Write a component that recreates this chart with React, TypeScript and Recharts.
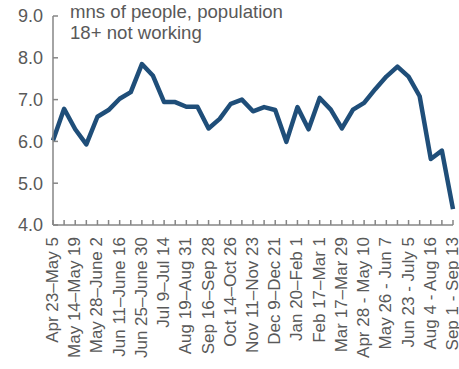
import { CartesianGrid, Line, LineChart, XAxis, YAxis } from "recharts";

// Survey weeks (every other one gets a label on the axis)
const weeks = [
  "Apr 23–May 5", "May 7–May 12", "May 14–May 19", "May 21–May 26",
  "May 28–June 2", "June 4–June 9", "Jun 11–June 16", "June 18–June 23",
  "Jun 25–June 30", "July 2–July 7", "Jul 9–Jul 14", "Jul 16–Jul 21",
  "Aug 19–Aug 31", "Sep 2–Sep 14", "Sep 16–Sep 28", "Sep 30–Oct 12",
  "Oct 14–Oct 26", "Oct 28–Nov 9", "Nov 11–Nov 23", "Nov 25–Dec 7",
  "Dec 9–Dec 21", "Jan 6–Jan 18", "Jan 20–Feb 1", "Feb 3–Feb 15",
  "Feb 17–Mar 1", "Mar 3–Mar 15", "Mar 17–Mar 29", "Apr 14–Apr 26",
  "Apr 28 - May 10", "May 12 - May 24", "May 26 - Jun 7", "Jun 9 - Jun 21",
  "Jun 23 - July 5", "Jul 21 - Aug 2", "Aug 4 - Aug 16", "Aug 18 - Aug 30",
  "Sep 1 - Sep 13",
];

// millions of adults not working
const notWorking = [
  6.02, 6.78, 6.29, 5.93, 6.59, 6.75, 7.02, 7.18, 7.85, 7.57,
  6.94, 6.94, 6.83, 6.83, 6.31, 6.54, 6.9, 7.0, 6.72, 6.82,
  6.75, 5.99, 6.82, 6.29, 7.04, 6.76, 6.31, 6.76, 6.92, 7.25,
  7.55, 7.79, 7.55, 7.08, 5.58, 5.78, 4.38,
];

const yTicks = [4, 5, 6, 7, 8, 9];

const data = weeks.map((week, i) => ({ week, value: notWorking[i] }));

const FONT = '"Liberation Sans", Arial, sans-serif';
const TEXT = "#595959";
const AXIS = "#868686";

function WeekTick(props: any) {
  const { x, y, payload, index } = props;
  if (index % 2 !== 0) return <g />;
  return (
    <text
      x={x}
      y={y}
      dy={5}
      transform={`rotate(-90, ${x}, ${y})`}
      textAnchor="end"
      fill={TEXT}
      fontSize={17}
      fontFamily={FONT}
    >
      {payload.value}
    </text>
  );
}

export default function App() {
  return (
    <div
      style={{
        position: "absolute",
        left: 0,
        top: 0,
        width: 459,
        height: 369,
        background: "#fff",
        overflow: "hidden",
      }}
    >
      <LineChart
        width={459}
        height={369}
        data={data}
        margin={{ top: 16, right: 6, bottom: 0, left: 8 }}
      >
        <CartesianGrid stroke="none" />
        <XAxis
          dataKey="week"
          interval={0}
          height={144}
          tickSize={-5}
          tickMargin={17}
          tick={<WeekTick />}
          axisLine={{ stroke: AXIS, strokeWidth: 1.5 }}
          tickLine={{ stroke: AXIS, strokeWidth: 1.5 }}
        />
        <YAxis
          width={45}
          domain={[4, 9]}
          ticks={yTicks}
          interval={0}
          tickSize={-5}
          tickMargin={15}
          tickFormatter={(v: number) => v.toFixed(1)}
          tick={{ fill: TEXT, fontSize: 18, fontFamily: FONT }}
          axisLine={{ stroke: AXIS, strokeWidth: 1.5 }}
          tickLine={{ stroke: AXIS, strokeWidth: 1.5 }}
        />
        <Line
          type="linear"
          dataKey="value"
          stroke="#1F4E79"
          strokeWidth={4.5}
          strokeLinejoin="round"
          dot={false}
          activeDot={false}
          isAnimationActive={false}
        />
      </LineChart>
      <div
        style={{
          position: "absolute",
          left: 70,
          top: 1,
          fontFamily: FONT,
          fontSize: 18.6,
          lineHeight: "21px",
          color: TEXT,
          pointerEvents: "none",
        }}
      >
        mns of people, population
        <br />
        18+ not working
      </div>
    </div>
  );
}
